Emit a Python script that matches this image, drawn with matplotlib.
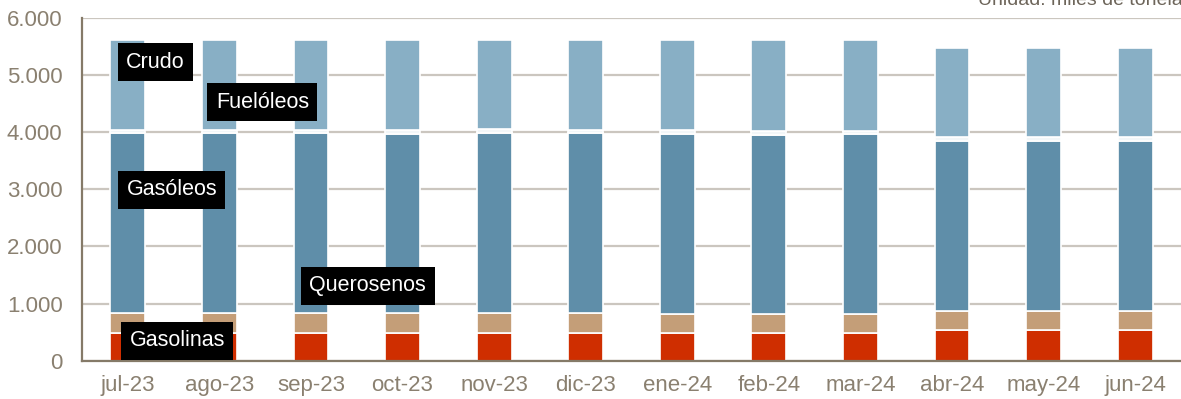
import matplotlib.pyplot as plt
import numpy as np

plt.rcParams['font.family'] = ['Liberation Sans', 'DejaVu Sans']

# miles de toneladas por mes
meses = ['jul-23', 'ago-23', 'sep-23', 'oct-23', 'nov-23', 'dic-23',
         'ene-24', 'feb-24', 'mar-24', 'abr-24', 'may-24', 'jun-24']
gasolinas = [490, 490, 490, 490, 490, 490, 490, 490, 490, 540, 540, 540]
querosenos = [340, 340, 340, 340, 340, 340, 330, 330, 330, 330, 330, 330]
gasoleos = [3150, 3150, 3145, 3140, 3155, 3145, 3140, 3130, 3135, 2970, 2970, 2970]
fueloleos = [60, 60, 60, 65, 65, 65, 70, 70, 65, 70, 70, 70]
crudo = [1560, 1565, 1570, 1575, 1560, 1570, 1580, 1590, 1580, 1560, 1560, 1560]

series = [
    ('Gasolinas', gasolinas, '#cf2e00'),
    ('Querosenos', querosenos, '#c49e78'),
    ('Gasóleos', gasoleos, '#5f8ea9'),
    ('Fuelóleos', fueloleos, '#f2f6f8'),
    ('Crudo', crudo, '#88afc5'),
]

# posiciones de las etiquetas (x en índice de mes, y en miles de t)
etiquetas = {
    'Crudo': (0.30, 5220),
    'Fuelóleos': (1.47, 4520),
    'Gasóleos': (0.48, 2985),
    'Querosenos': (2.62, 1306),
    'Gasolinas': (0.54, 345),
}

fig = plt.figure(figsize=(11.81, 3.99), dpi=100)
ax = fig.add_axes([82 / 1181, 38.3 / 399, 1099 / 1181, 343.2 / 399])

x = np.arange(len(meses))
base = np.zeros(len(meses))
for nombre, vals, color in series:
    ax.bar(x, vals, bottom=base, width=0.38, color=color,
           edgecolor='white', linewidth=1.2, zorder=3)
    base += np.array(vals)

for nombre, (xi, yi) in etiquetas.items():
    ax.text(xi, yi, nombre, color='white', fontsize=15.5, ha='center', va='center',
            zorder=5, bbox=dict(facecolor='black', edgecolor='none', pad=6))

ax.set_xlim(-0.5, 11.5)
ax.set_ylim(0, 6000)
ax.set_yticks(np.arange(0, 6001, 1000))
ax.set_yticklabels(['0', '1.000', '2.000', '3.000', '4.000', '5.000', '6.000'])
ax.set_xticks(x)
ax.set_xticklabels(meses)

ax.yaxis.grid(True, color='#cbc6bf', linewidth=1.6, zorder=1)
ax.set_axisbelow(True)
for s in ['top', 'right']:
    ax.spines[s].set_visible(False)
for s in ['left', 'bottom']:
    ax.spines[s].set_color('#857a68')
    ax.spines[s].set_linewidth(1.6)
    ax.spines[s].set_zorder(4)

ax.tick_params(axis='both', length=0, labelsize=16, colors='#8a8070')
ax.tick_params(axis='y', pad=14)
ax.tick_params(axis='x', pad=10)

fig.text(978 / 1181, 1 - 5 / 399, 'Unidad: miles de toneladas', fontsize=14,
         color='#6d655a', ha='left', va='baseline')

fig.savefig('out.png', dpi=100)
